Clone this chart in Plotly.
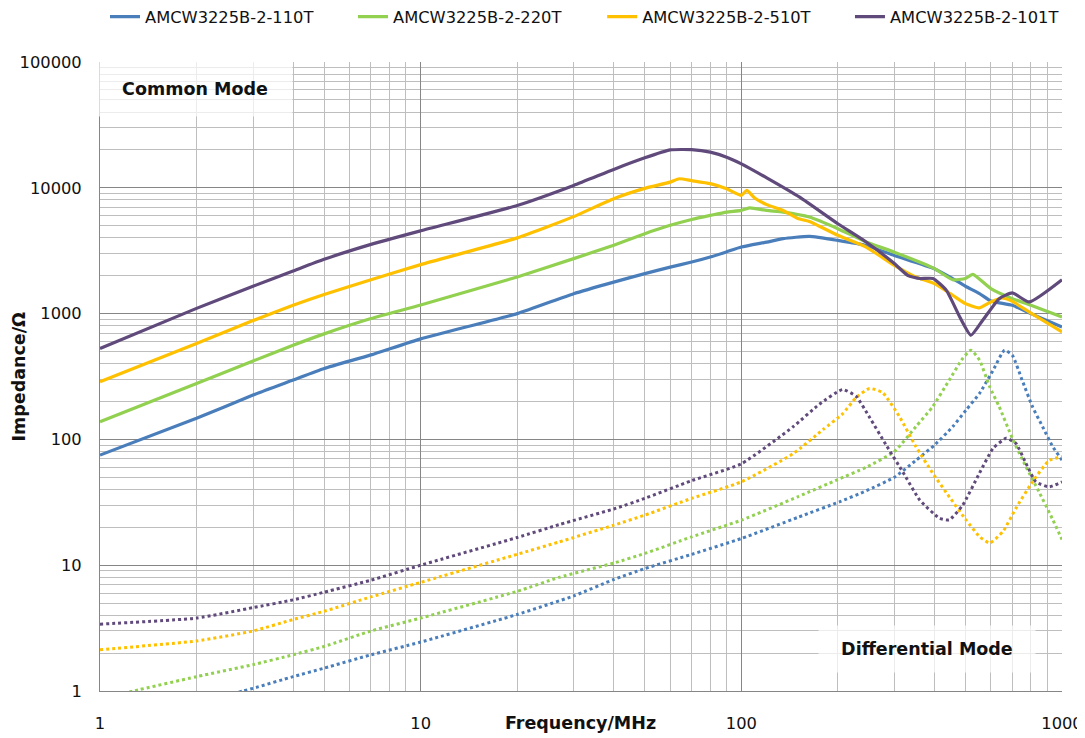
import plotly.graph_objects as go

# ---------------- data ----------------
NAMES = ["AMCW3225B-2-110T", "AMCW3225B-2-220T", "AMCW3225B-2-510T", "AMCW3225B-2-101T"]
COLORS = ["#4A7EBB", "#92D050", "#FFC000", "#604A7B"]

# Common mode (solid lines)
CM_110T_F = [1, 2, 3, 4, 5, 7, 10, 20, 30, 40, 50, 60, 70, 80, 90, 100, 120, 135, 163, 200, 245, 300, 400, 456, 500, 553, 600, 700, 800, 1000]
CM_110T_Z = [75, 147, 225, 296, 366, 470, 630, 1000, 1440, 1780, 2080, 2340, 2570, 2820, 3100, 3380, 3700, 3940, 4110, 3820, 3480, 2900, 2275, 1897, 1650, 1443, 1260, 1165, 1000, 783]

CM_220T_F = [1, 2, 3, 4, 5, 7, 10, 20, 30, 40, 50, 60, 70, 80, 90, 100, 106, 120, 135, 163, 200, 245, 300, 400, 456, 500, 527, 600, 700, 800, 1000]
CM_220T_Z = [138, 278, 420, 560, 690, 913, 1170, 1955, 2735, 3500, 4320, 5030, 5600, 6030, 6410, 6610, 6930, 6610, 6410, 5850, 4730, 3710, 3080, 2280, 1860, 1900, 2050, 1580, 1315, 1165, 940]

CM_510T_F = [1, 2, 3, 4, 5, 7, 10, 20, 30, 40, 50, 60, 64, 70, 80, 90, 100, 104, 110, 120, 135, 150, 163, 200, 245, 300, 350, 400, 456, 500, 553, 600, 650, 700, 800, 1000]
CM_510T_Z = [287, 578, 880, 1165, 1420, 1860, 2450, 4000, 5900, 8200, 9900, 11100, 11800, 11400, 10800, 9830, 8700, 9530, 8300, 7350, 6610, 5700, 5400, 4190, 3380, 2420, 1955, 1730, 1400, 1200, 1110, 1238, 1330, 1250, 1010, 715]

CM_101T_F = [1, 2, 3, 4, 5, 7, 10, 20, 30, 40, 50, 60, 70, 80, 90, 100, 120, 152, 200, 245, 300, 330, 360, 396, 436, 480, 520, 566, 637, 700, 790, 1000]
CM_101T_Z = [528, 1100, 1650, 2180, 2700, 3550, 4550, 7240, 10450, 14000, 17300, 20000, 20100, 19200, 17500, 15500, 12000, 8430, 5180, 3710, 2500, 2015, 1900, 1900, 1530, 940, 673, 885, 1315, 1460, 1238, 1860]

# Differential mode (dotted lines)
DM_110T_F = [1, 2.79, 3, 4, 5, 7, 10, 20, 30, 40, 50, 70, 100, 150, 203, 245, 300, 350, 400, 456, 502, 553, 610, 662, 700, 751, 809, 870, 936, 1000]
DM_110T_Z = [0.48, 1.0, 1.05, 1.3, 1.52, 1.94, 2.45, 4.06, 5.7, 7.7, 9.4, 12.2, 16.3, 24, 32, 39, 50, 68, 90, 126, 171, 232, 355, 512, 467, 296, 182, 126, 87.5, 68.5]

DM_220T_F = [1, 1.27, 2, 3, 4, 5, 7, 10, 20, 27, 40, 50, 70, 100, 150, 200, 245, 300, 350, 395, 445, 490, 520, 553, 595, 637, 700, 771, 849, 936, 1000]
DM_220T_Z = [0.87, 1.0, 1.3, 1.62, 1.94, 2.26, 3.0, 3.8, 6.2, 8.0, 10.4, 12.4, 16.8, 22.8, 35, 48, 60, 80, 126, 182, 296, 440, 512, 427, 262, 182, 102, 61, 38, 23, 16]

DM_510T_F = [1, 2, 3, 4, 5, 7, 10, 20, 27, 40, 50, 70, 100, 145, 180, 207, 228, 251, 276, 312, 350, 395, 445, 502, 553, 595, 654, 718, 809, 912, 1000]
DM_510T_Z = [2.13, 2.5, 3.0, 3.7, 4.3, 5.6, 7.3, 12.2, 15.3, 20.8, 25, 34, 46, 77, 120, 160, 215, 254, 235, 150, 88, 54, 35, 22.9, 16.9, 15, 18.5, 28.3, 46, 68, 73]

DM_101T_F = [1, 2, 3, 4, 5, 7, 10, 20, 27, 40, 50, 70, 100, 145, 175, 207, 228, 251, 283, 319, 360, 415, 445, 490, 553, 610, 670, 718, 771, 829, 912, 1000]
DM_101T_Z = [3.4, 3.8, 4.6, 5.3, 6.1, 7.6, 10, 16.6, 21, 28, 34, 47, 64, 126, 190, 249, 220, 150, 90, 55, 33, 23.6, 22.9, 30, 54, 85, 102, 93, 65, 46, 42, 46]

X_TICKS = [1, 10, 100, 1000]
X_TICK_TEXT = ["1", "10", "100", "1000"]
Y_TICKS = [1, 10, 100, 1000, 10000, 100000]
Y_TICK_TEXT = ["1", "10", "100", "1000", "10000", "100000"]
MINOR_DIGITS = [2, 3, 4, 5, 6, 7, 8, 9]

CM = [(CM_110T_F, CM_110T_Z), (CM_220T_F, CM_220T_Z), (CM_510T_F, CM_510T_Z), (CM_101T_F, CM_101T_Z)]
DM = [(DM_110T_F, DM_110T_Z), (DM_220T_F, DM_220T_Z), (DM_510T_F, DM_510T_Z), (DM_101T_F, DM_101T_Z)]

x_minor = [d * t for t in X_TICKS[:-1] for d in MINOR_DIGITS]
y_minor = [d * t for t in Y_TICKS[:-1] for d in MINOR_DIGITS]

FONT = "DejaVu Sans"
TXT = "#111111"
LEGEND_IDS = ["legend", "legend2", "legend3", "legend4"]
LEGEND_X = [0.0052, 0.263, 0.522, 0.7796]

fig = go.Figure()
for name, color, lid, (f, z) in zip(NAMES, COLORS, LEGEND_IDS, CM):
    fig.add_trace(go.Scatter(x=f, y=z, mode="lines", name=name, legend=lid,
                             line=dict(color=color, width=3.2, shape="spline", smoothing=0.5)))
for name, color, (f, z) in zip(NAMES, COLORS, DM):
    fig.add_trace(go.Scatter(x=f, y=z, mode="lines", name=name + " DM", showlegend=False,
                             line=dict(color=color, width=3, dash="dot", shape="spline", smoothing=0.5)))

minor_grid = "#BEBEBE"
major_grid = "#868686"

fig.update_xaxes(type="log", range=[0, 3], tickmode="array", tickvals=X_TICKS, ticktext=X_TICK_TEXT,
                 showgrid=True, gridcolor=major_grid, gridwidth=1,
                 minor=dict(tickmode="array", tickvals=x_minor, showgrid=True, gridcolor=minor_grid,
                            gridwidth=1, ticks=""),
                 showline=True, linecolor=major_grid, linewidth=1,
                 ticks="outside", ticklen=17, tickcolor="rgba(0,0,0,0)",
                 tickfont=dict(family=FONT, size=16.3, color=TXT), zeroline=False)
fig.update_yaxes(type="log", range=[0, 5], tickmode="array", tickvals=Y_TICKS, ticktext=Y_TICK_TEXT,
                 showgrid=True, gridcolor=major_grid, gridwidth=1,
                 minor=dict(tickmode="array", tickvals=y_minor, showgrid=True, gridcolor=minor_grid,
                            gridwidth=1, ticks=""),
                 showline=True, linecolor=major_grid, linewidth=1,
                 ticks="outside", ticklen=14, tickcolor="rgba(0,0,0,0)",
                 tickfont=dict(family=FONT, size=16.3, color=TXT), zeroline=False)

legend_style = dict(orientation="h", xref="paper", yref="paper", y=1.0715,
                    xanchor="left", yanchor="middle",
                    font=dict(family=FONT, size=16.3, color=TXT), bgcolor="rgba(0,0,0,0)",
                    itemwidth=30)
legends = {lid: dict(legend_style, x=lx) for lid, lx in zip(LEGEND_IDS, LEGEND_X)}

fig.update_layout(
    width=1077, height=730,
    margin=dict(l=92, r=23, t=54, b=47, autoexpand=False),
    paper_bgcolor="white", plot_bgcolor="white",
    font=dict(family=FONT, size=16, color=TXT),
    **legends,
    annotations=[
        dict(text="<b>Common Mode</b>", xref="paper", yref="paper", x=0.0988, y=0.9571,
             xanchor="center", yanchor="middle",
             showarrow=False, width=192, height=52, bgcolor="rgba(255,255,255,0.7)",
             font=dict(family=FONT, size=17.5, color=TXT)),
        dict(text="<b>Differential Mode</b>", xref="paper", yref="paper", x=0.8597, y=0.0668,
             xanchor="center", yanchor="middle",
             showarrow=False, width=214, height=44, bgcolor="rgba(255,255,255,0.7)",
             font=dict(family=FONT, size=17.5, color=TXT)),
        dict(text="<b>Frequency/MHz</b>", xref="paper", yref="paper", x=0.499, y=-0.0509,
             xanchor="center", yanchor="middle",
             showarrow=False, font=dict(family=FONT, size=17.5, color=TXT)),
        dict(text="<b>Impedance/Ω</b>", xref="paper", yref="paper", x=-0.0837, y=0.5008,
             xanchor="center", yanchor="middle",
             showarrow=False, textangle=-90, font=dict(family=FONT, size=17.5, color=TXT)),
    ],
)

fig.write_html("out.html")
